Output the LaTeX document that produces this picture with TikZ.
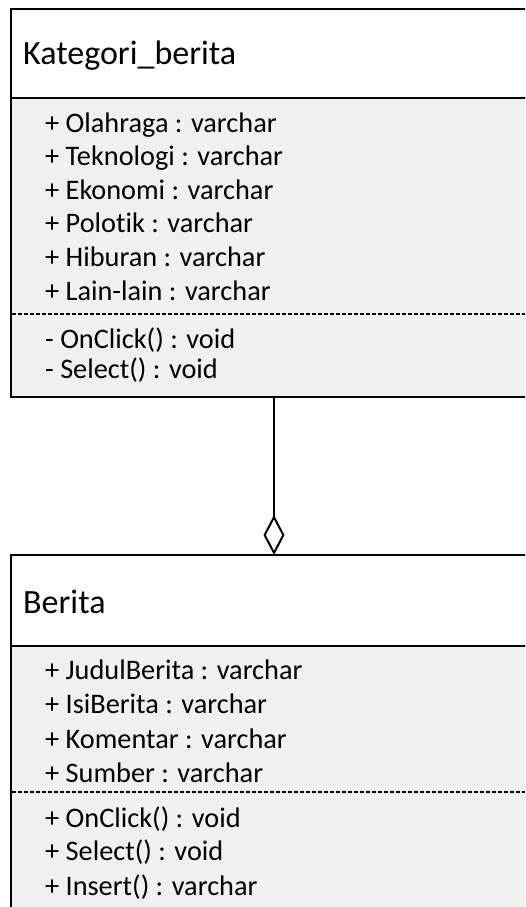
\documentclass[tikz,border=0pt]{standalone}
\usepackage{fontspec}
\setmainfont{Carlito}[Ligatures=NoCommon]
\usetikzlibrary{arrows.meta}
\definecolor{bodygray}{HTML}{F0F0F0}
\begin{document}
\begin{tikzpicture}[x=1pt,y=-1pt,
  classhead/.style={draw=black, line width=2pt, fill=white, anchor=north west,
    minimum width=526pt, inner sep=0pt, outer sep=0pt},
  classbody/.style={draw=black, line width=2pt, fill=bodygray, anchor=north west,
    minimum width=526pt, inner sep=0pt, outer sep=0pt},
  title/.style={anchor=base west, inner sep=0pt, font=\fontsize{34}{38}\selectfont},
  member/.style={anchor=base west, inner sep=0pt, font=\fontsize{28.3}{32}\selectfont},
  separator/.style={line width=1.5pt, dash pattern=on 4pt off 2pt},
  aggregation/.style={line width=2pt, -{Diamond[open, length=40pt, width=21pt, line width=2pt]}}]
\useasboundingbox (0,0) rectangle (525,907);
\fill[white] (0,0) rectangle (525,907);
\begin{scope}
\clip (0,0) rectangle (525,907);

% class Kategori_berita
\node[classbody, minimum height=299pt] (katbody) at (11,98) {};
\node[classhead, minimum height=89pt] (kathead) at (11,9) {};
\node[title] (kattitle) at (23,65) {Kategori\_berita};
\draw[separator] (12,314) -- (525,314);
\foreach \txt [count=\i] in {+ Olahraga : varchar, + Teknologi : varchar,
    + Ekonomi : varchar, + Polotik : varchar, + Hiburan : varchar,
    + Lain-lain : varchar}
  \node[member] (katattr\i) at (45,{132+33.6*(\i-1)}) {\txt};
\node[member] (katop1) at (45,348) {- OnClick() : void};
\node[member] (katop2) at (45,378) {- Select() : void};

% class Berita
\node[classbody, minimum height=300pt] (berbody) at (11,646) {};
\node[classhead, minimum height=91pt] (berhead) at (11,555) {};
\node[title] (bertitle) at (23,613) {Berita};
\draw[separator] (12,792) -- (525,792);
\foreach \txt [count=\i] in {+ JudulBerita : varchar, + IsiBerita : varchar,
    + Komentar : varchar, + Sumber : varchar}
  \node[member] (berattr\i) at (45,{679+34.5*(\i-1)}) {\txt};
\node[member] (berop1) at (45,827) {+ OnClick() : void};
\node[member] (berop2) at (45,860) {+ Select() : void};
\node[member] (berop3) at (45,895) {+ Insert() : varchar};

% aggregation: Berita is part of Kategori_berita
\draw[aggregation] (katbody.south) -- (berhead.north);
\end{scope}
\end{tikzpicture}
\end{document}
